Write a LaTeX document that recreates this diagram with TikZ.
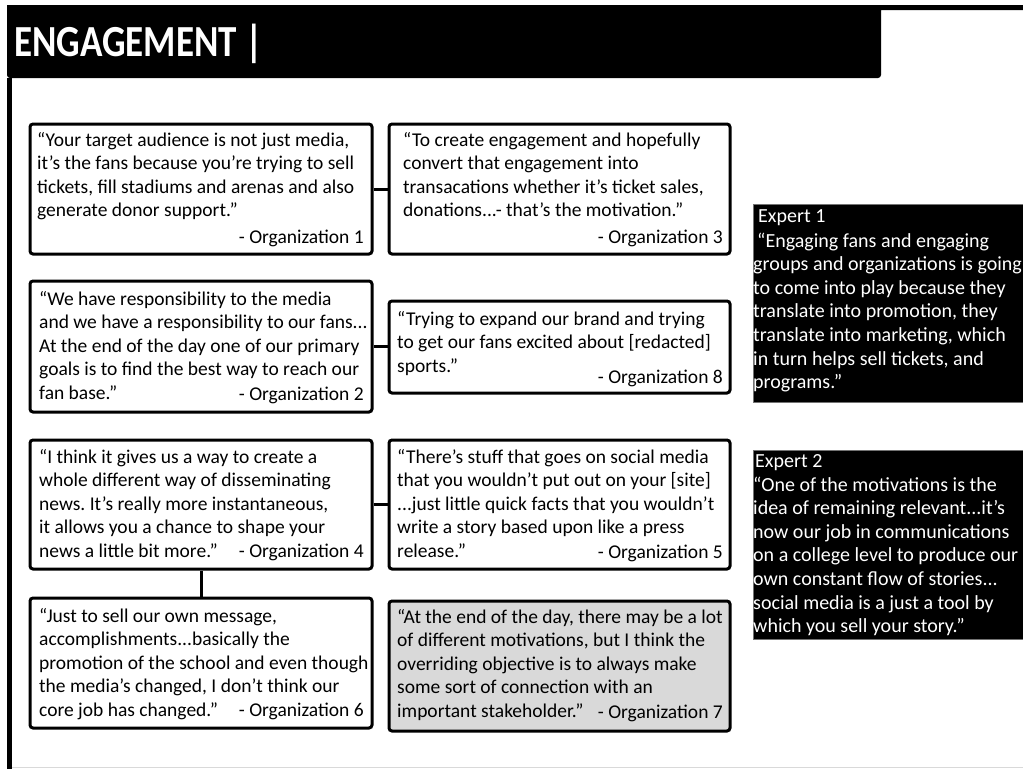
\documentclass[tikz,border=0pt]{standalone}
\usepackage{fontspec}
\setmainfont{Carlito}
\frenchspacing
\newcommand{\quotefont}{\fontsize{19.5}{23.5}\selectfont}
\newcommand{\expertfont}{\fontsize{20}{23.6}\selectfont}
\newcommand{\qlines}[2]{\parbox[t]{#1}{\raggedright #2}}
\begin{document}
\begin{tikzpicture}[x=1pt,y=-1pt,
  qbox/.style={draw=black, line width=3pt, rounded corners=3pt, fill=white,
    anchor=north west, inner sep=0pt},
  graybox/.style={qbox, fill=black!15},
  qtext/.style={anchor=base west, inner sep=0pt, font=\quotefont, text=black},
  org/.style={anchor=base east, inner sep=0pt, font=\quotefont, text=black},
  link/.style={draw=black, line width=3pt},
  ebox/.style={draw=black!55, line width=1pt, fill=black, anchor=north west, inner sep=0pt},
  etext/.style={anchor=base west, inner sep=0pt, font=\expertfont, text=white},
  heading/.style={anchor=base west, inner sep=0pt, text=white,
    font=\fontsize{37}{44}\selectfont\bfseries}]
\useasboundingbox (0,0) rectangle (1023,769);
\fill[white] (0,0) rectangle (1023,769);

% header band and left rule
\fill[black] (7,5) -- (1023,5) -- (1023,10) -- (881,10)
  [rounded corners=3pt] -- (881,78) -- (7,78) [sharp corners] -- cycle;
\fill[black] (7,78) rectangle (12,769);
\draw[black!15, line width=1.5pt] (12,767.5) -- (1023,767.5);
\node[heading, yscale=1.2, transform shape] (title) at (14,56) {ENGAGEMENT |};

% quote boxes
\node[qbox, minimum width=342pt, minimum height=130pt] (o1) at (28.5,122.5) {};
\node[qbox, minimum width=341pt, minimum height=130pt] (o3) at (387.5,122.5) {};
\node[qbox, minimum width=342pt, minimum height=131pt] (o2) at (28.5,279.5) {};
\node[qbox, minimum width=341pt, minimum height=92pt] (o8) at (387.5,299.5) {};
\node[qbox, minimum width=342pt, minimum height=129pt] (o4) at (28.5,438.5) {};
\node[qbox, minimum width=341pt, minimum height=129pt] (o5) at (387.5,438.5) {};
\node[qbox, minimum width=342pt, minimum height=130pt] (o6) at (28.5,596.5) {};
\node[graybox, minimum width=341pt, minimum height=130pt] (o7) at (387.5,599.5) {};

% connectors
\draw[link] (o1.east) -- (o3.west);
\draw[link] (o2.east) -- (o2.east -| o8.west);
\draw[link] (o4.east) -- (o5.west);
\draw[link] (o4.south) -- (o6.north);

% quotes
\node[qtext] (q1) at (37,146) {\qlines{330pt}{“Your target audience is not just media,\\
it’s the fans because you’re trying to sell\\
tickets, fill stadiums and arenas and also\\
generate donor support.”}};
\node[org] (g1) at (364,243) {- Organization 1};

\node[qtext] (q3) at (403,146) {\qlines{320pt}{“To create engagement and hopefully\\
convert that engagement into\\
transacations whether it’s ticket sales,\\
donations...- that’s the motivation.”}};
\node[org] (g3) at (723,243) {- Organization 3};

\node[qtext] (q2) at (39,305) {\qlines{330pt}{“We have responsibility to the media\\
and we have a responsibility to our fans...\\
At the end of the day one of our primary\\
goals is to find the best way to reach our\\
fan base.”}};
\node[org] (g2) at (364,400) {- Organization 2};

\node[qtext] (q8) at (397,325) {\qlines{330pt}{“Trying to expand our brand and trying\\
to get our fans excited about [redacted]\\
sports.”}};
\node[org] (g8) at (723,383) {- Organization 8};

\node[qtext] (q4) at (39,463) {\qlines{330pt}{“I think it gives us a way to create a\\
whole different way of disseminating\\
news. It’s really more instantaneous,\\
it allows you a chance to shape your\\
news a little bit more.”}};
\node[org] (g4) at (364,557) {- Organization 4};

\node[qtext] (q5) at (397,463) {\qlines{330pt}{“There’s stuff that goes on social media\\
that you wouldn’t put out on your [site]\\
...just little quick facts that you wouldn’t\\
write a story based upon like a press\\
release.”}};
\node[org] (g5) at (723,558) {- Organization 5};

\node[qtext] (q6) at (39,622) {\qlines{340pt}{“Just to sell our own message,\\
accomplishments...basically the\\
promotion of the school and even though\\
the media’s changed, I don’t think our\\
core job has changed.”}};
\node[org] (g6) at (364,716) {- Organization 6};

\node[qtext] (q7) at (397,623) {\qlines{340pt}{“At the end of the day, there may be a lot\\
of different motivations, but I think the\\
overriding objective is to always make\\
some sort of connection with an\\
important stakeholder.”}};
\node[org] (g7) at (723,718) {- Organization 7};

% expert panels
\node[ebox, minimum width=280pt, minimum height=198pt] (e1) at (752.5,203.5) {};
\node[etext] (e1h) at (758,222) {Expert 1};
\node[etext] (e1t) at (753,247) {\qlines{320pt}{\hspace*{4pt}“Engaging fans and engaging\\
groups and organizations is going\\
to come into play because they\\
translate into promotion, they\\
translate into marketing, which\\
in turn helps sell tickets, and\\
programs.”}};

\node[ebox, minimum width=280pt, minimum height=189pt] (e2) at (752.5,449.5) {};
\node[etext] (e2h) at (755,467) {Expert 2};
\node[etext] (e2t) at (753,491) {\qlines{320pt}{“One of the motivations is the\\
idea of remaining relevant...it’s\\
now our job in communications\\
on a college level to produce our\\
own constant flow of stories...\\
social media is a just a tool by\\
which you sell your story.”}};
\end{tikzpicture}
\end{document}
